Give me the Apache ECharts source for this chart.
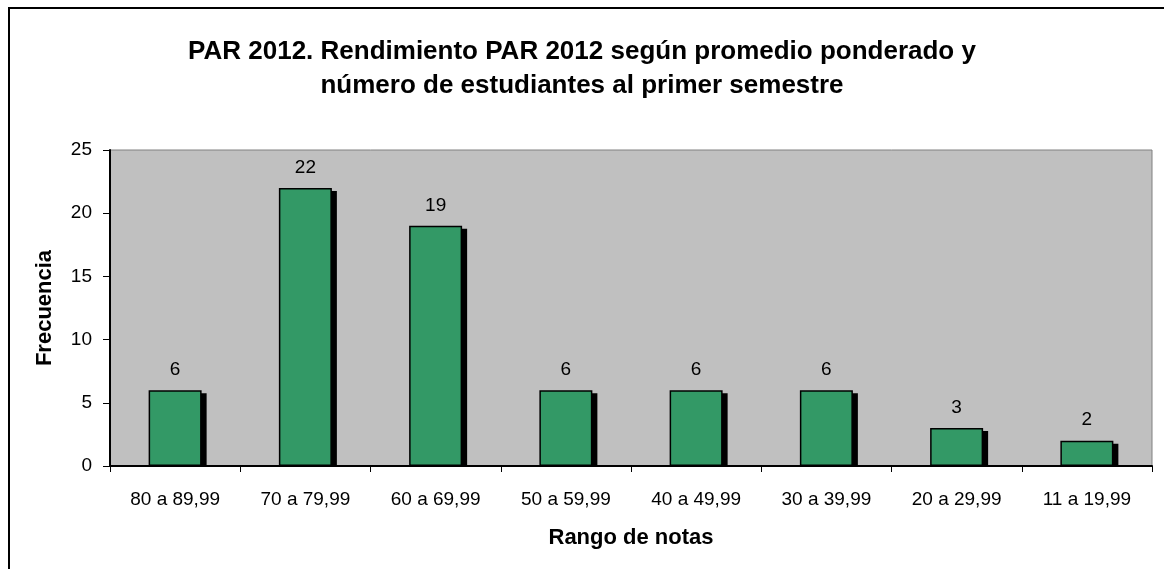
<!DOCTYPE html>
<html><head><meta charset="utf-8">
<script src="https://cdn.jsdelivr.net/npm/echarts@6/dist/echarts.min.js"></script>
<style>
html,body{margin:0;padding:0;background:#fff;}
#frame{position:absolute;left:8px;top:7px;width:1200px;height:600px;border:2px solid #000;box-sizing:border-box;}
#c{position:absolute;left:0;top:0;width:1164px;height:569px;}
</style></head>
<body>
<div id="frame"></div>
<div id="c"></div>
<script>
const titleText = "PAR 2012. Rendimiento PAR 2012 según promedio ponderado y\nnúmero de estudiantes al primer semestre";
const categories = ["80 a 89,99","70 a 79,99","60 a 69,99","50 a 59,99","40 a 49,99","30 a 39,99","20 a 29,99","11 a 19,99"];
const frecuencia = [6,22,19,6,6,6,3,2];
const yTicks = {min:0, max:25, interval:5};
const font = "'Liberation Sans', Arial, sans-serif";
const BAR_W = 53, SH_X = 5, SH_Y = 3;

const chart = echarts.init(document.getElementById('c'), null, {renderer:'canvas'});
chart.setOption({
  animation:false,
  backgroundColor:'transparent',
  title:{text:titleText, left:'center', top:30, itemGap:0,
    textStyle:{fontFamily:font, fontSize:26, fontWeight:'bold', color:'#000', lineHeight:34}},
  grid:{left:110, top:150, right:12, bottom:103, show:true, backgroundColor:'#C0C0C0', borderColor:'#808080', borderWidth:1},
  xAxis:{type:'category', data:categories,
    axisLine:{lineStyle:{color:'#000', width:2}},
    axisTick:{show:true, length:6, alignWithLabel:false, lineStyle:{color:'#000'}},
    axisLabel:{fontFamily:font, fontSize:19, color:'#000', margin:24},
    name:'Rango de notas', nameLocation:'middle', nameGap:61,
    nameTextStyle:{fontFamily:font, fontSize:22, fontWeight:'bold', color:'#000'}},
  yAxis:{type:'value', min:yTicks.min, max:yTicks.max, interval:yTicks.interval,
    splitLine:{show:false},
    axisLine:{show:true, lineStyle:{color:'#000', width:2}},
    axisTick:{show:true, length:7, lineStyle:{color:'#000'}},
    axisLabel:{fontFamily:font, fontSize:19, color:'#000', margin:18},
    name:'Frecuencia', nameLocation:'middle', nameGap:54, nameRotate:90,
    nameTextStyle:{fontFamily:font, fontSize:22, fontWeight:'bold', color:'#000'}},
  series:[
    {type:'custom', z:1, silent:true,
     data: frecuencia.map((v,i)=>[i,v]),
     renderItem:function(params, api){
       const top = api.coord([api.value(0), api.value(1)]);
       const base = api.coord([api.value(0), 0]);
       return {type:'rect', shape:{x:top[0]-BAR_W/2+SH_X, y:top[1]+SH_Y, width:BAR_W, height:base[1]-top[1]-SH_Y},
               style:{fill:'#000'}};
     }},
    {type:'bar', z:2, data:frecuencia, barWidth:BAR_W,
    itemStyle:{color:'#339966', borderColor:'#000', borderWidth:1.5},
    label:{show:true, position:'top', distance:11, fontFamily:font, fontSize:19, color:'#000'}}]
});
</script>
</body></html>
